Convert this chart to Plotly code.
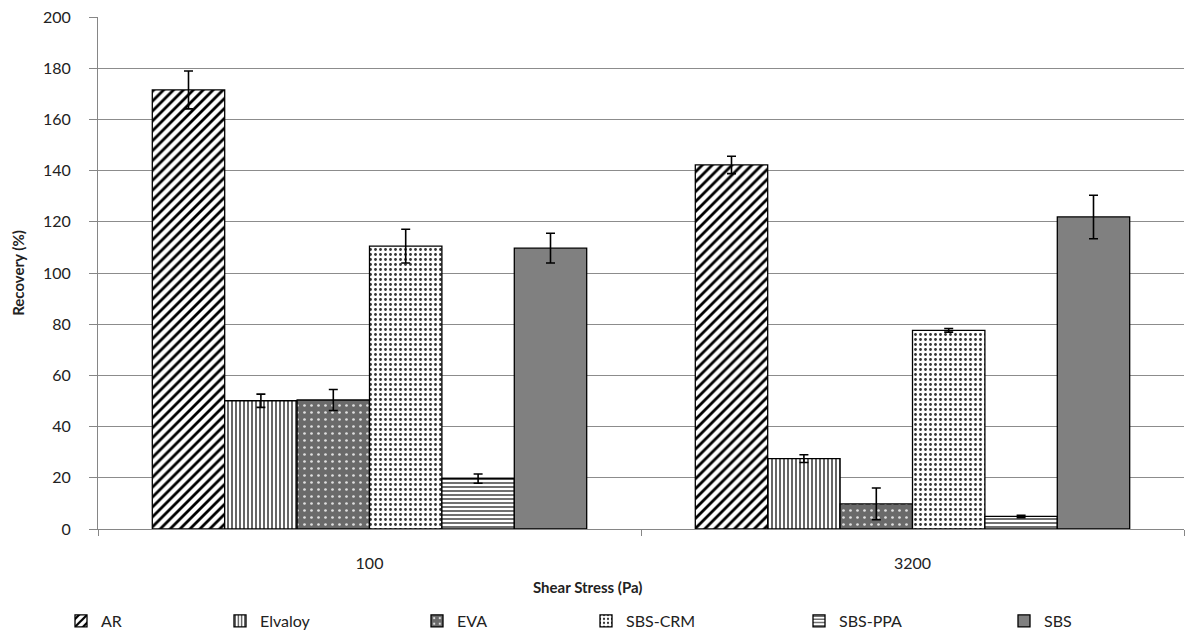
import plotly.graph_objects as go

categories = ["100", "3200"]
series_names = ["AR", "Elvaloy", "EVA", "SBS-CRM", "SBS-PPA", "SBS"]
ar = [171.5, 142.2]
elvaloy = [50.1, 27.5]
eva = [50.4, 9.8]
sbs_crm = [110.5, 77.6]
sbs_ppa = [19.7, 4.9]
sbs = [109.7, 121.9]
ar_err = [7.4, 3.4]
elvaloy_err = [2.6, 1.5]
eva_err = [4.1, 6.2]
sbs_crm_err = [6.6, 0.7]
sbs_ppa_err = [1.8, 0.5]
sbs_err = [5.8, 8.5]

values = [ar, elvaloy, eva, sbs_crm, sbs_ppa, sbs]
errors = [ar_err, elvaloy_err, eva_err, sbs_crm_err, sbs_ppa_err, sbs_err]

W, H = 1187, 638
L, R, T, B = 98, 3, 17, 109
PW, PH = W - L - R, H - T - B
# legend swatch centre x positions (pixels)
legend_x_px = [83, 242, 439, 608, 821, 1026]
legend_y_px = 621

styles = [
    dict(color="white", pattern=dict(shape="/", fgcolor="black", bgcolor="white", size=7, solidity=0.4)),
    dict(color="white", pattern=dict(shape="|", fgcolor="black", bgcolor="white", size=4, solidity=0.3)),
    dict(color="#6a6a6a", pattern=dict(shape=".", fgcolor="#e0e0e0", bgcolor="#6a6a6a", size=7, solidity=0.12)),
    dict(color="white", pattern=dict(shape=".", fgcolor="#333333", bgcolor="white", size=5, solidity=0.25)),
    dict(color="white", pattern=dict(shape="-", fgcolor="#333333", bgcolor="white", size=4, solidity=0.35)),
    dict(color="#808080", pattern=None),
]

font_family = "Lato, 'Open Sans', sans-serif"

fig = go.Figure()
legend_layouts = {}
for i, (name, vals, errs, st) in enumerate(zip(series_names, values, errors, styles)):
    marker = dict(color=st["color"], line=dict(color="black", width=1.3))
    if st["pattern"] is not None:
        marker["pattern"] = dict(fillmode="replace", **st["pattern"])
    lname = "legend" if i == 0 else f"legend{i + 1}"
    fig.add_trace(go.Bar(
        name=name, x=categories, y=vals,
        marker=marker, legend=lname,
        error_y=dict(type="data", array=errs, visible=True, color="black", thickness=1.6, width=4.5),
    ))
    legend_layouts[lname] = dict(
        orientation="h", xref="container", yref="container",
        x=(legend_x_px[i] - 22) / W, xanchor="left",
        y=1 - legend_y_px / H, yanchor="middle",
        font=dict(size=16, color="#222222", family=font_family),
        bgcolor="rgba(0,0,0,0)", itemwidth=30,
    )

fig.update_layout(
    width=W, height=H,
    barmode="group", bargap=0.2, bargroupgap=0,
    plot_bgcolor="white", paper_bgcolor="white",
    margin=dict(l=L, r=R, t=T, b=B, autoexpand=False),
    font=dict(family=font_family, size=15, color="#222222"),
    showlegend=True,
    xaxis=dict(
        automargin=False,
        showline=True, linecolor="#868686", linewidth=1,
        ticks="outside", tickson="boundaries", ticklen=6, tickcolor="#868686",
        ticklabelstandoff=20,
        tickfont=dict(size=16),
    ),
    yaxis=dict(
        automargin=False,
        range=[0, 200], dtick=20,
        showline=True, linecolor="#868686", linewidth=1,
        showgrid=True, gridcolor="#8c8c8c", gridwidth=1,
        ticks="outside", ticklen=8, tickcolor="#868686",
        ticklabelstandoff=15,
        tickfont=dict(size=16),
        zeroline=False,
        title=dict(text="<b>Recovery (%)</b>", font=dict(size=15), standoff=14),
    ),
    annotations=[dict(
        text="<b>Shear Stress (Pa)</b>", xref="paper", yref="paper",
        x=(587 - L) / PW, y=-(587 - (H - B)) / PH, xanchor="center", yanchor="middle",
        showarrow=False, font=dict(size=15, color="#222222", family=font_family),
    )],
    **legend_layouts,
)

post = ("document.body.style.margin='0';document.body.style.overflow='hidden';"
        "Plotly.relayout('{plot_id}', {width: %d, height: %d});" % (W, H))
fig.write_html("out.html", config={"responsive": False, "displayModeBar": False}, post_script=post)
